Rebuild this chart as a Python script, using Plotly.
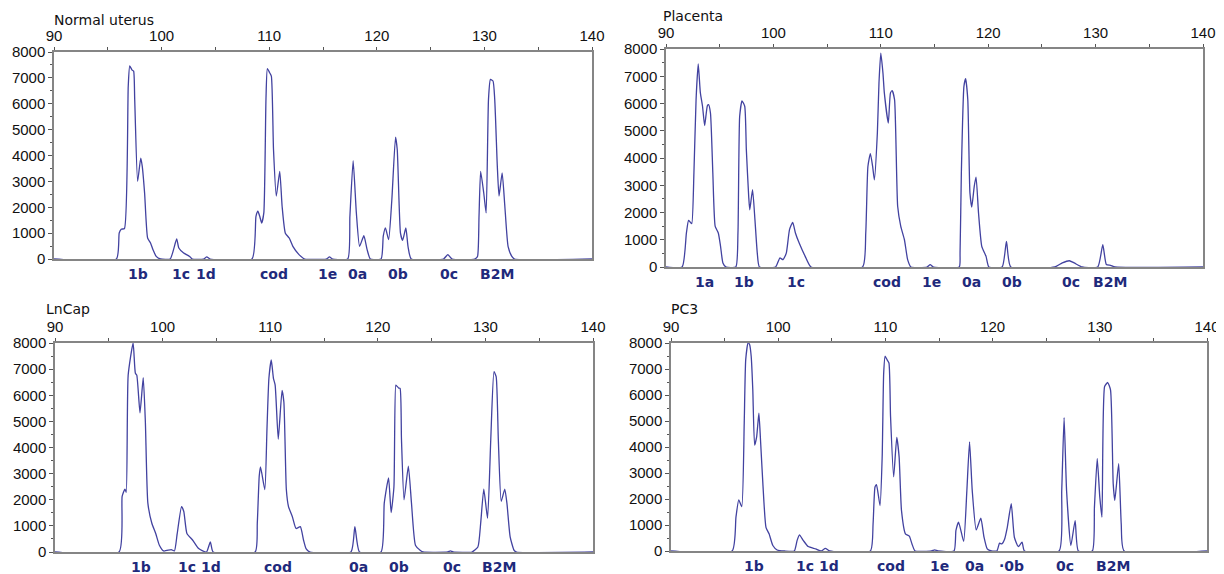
import plotly.graph_objects as go

# ---------------- data ----------------
NU_PTS = [(90,0),(95.8,0),(96.06,1006),(96.25,1150),(96.55,1180),(96.9,6680),(97.04,7460),(97.26,7300),
          (97.4,7260),(97.5,6170),(97.77,3000),(98.06,3900),(98.2,3590),(98.42,2550),(98.7,810),(98.97,620),
          (99.2,360),(99.5,100),(99.9,0),(100.8,0),(101.4,775),(101.6,425),(102.05,230),(102.6,100),(102.85,0),
          (103.9,0),(104.2,80),(104.5,0),(108.4,0),(108.77,1650),(108.95,1845),(109.12,1650),(109.3,1390),
          (109.5,1780),(109.7,6170),(109.83,7355),(110.04,7200),(110.2,7070),(110.4,4230),(110.66,2430),
          (110.98,3390),(111.2,2040),(111.5,1000),(111.86,810),(112.2,490),(112.77,170),(113.3,0),(115.3,0),
          (115.6,80),(115.9,0),(117.3,0),(117.5,1650),(117.8,3800),(118.1,1780),(118.4,490),(118.8,900),
          (119.1,360),(119.4,0),(120.4,0),(120.6,880),(120.8,1200),(121.1,750),(121.4,2300),(121.74,4710),
          (121.9,4230),(122.2,1000),(122.4,720),(122.7,1200),(122.9,490),(123.2,0),(126.2,0),(126.6,170),
          (127.0,0),(129.1,0),(129.36,100),(129.5,1650),(129.65,3390),(129.94,2550),(130.16,1780),(130.38,6170),
          (130.56,6940),(130.8,6880),(130.96,6170),(131.2,3590),(131.36,2430),(131.65,3330),(131.9,2040),
          (132.2,490),(132.55,100),(132.8,0),(140,0)]

PL_PTS = [(90,0),(91.5,0),(91.9,1250),(92.1,1710),(92.25,1650),(92.4,1590),(92.6,3450),(92.8,6140),(93.0,7450),
          (93.2,6390),(93.4,5900),(93.6,5190),(93.85,5920),(93.96,5960),(94.14,5650),(94.36,3450),(94.58,1490),
          (94.87,1250),(95.08,760),(95.3,150),(95.6,0),(96.5,0),(96.7,1250),(96.86,5530),(97.08,6100),(97.33,5900),
          (97.48,4300),(97.7,2590),(97.8,2100),(98.06,2840),(98.28,1740),(98.5,510),(98.7,0),(100.2,0),(100.6,330),
          (100.9,270),(101.2,510),(101.5,1370),(101.8,1640),(102.05,1250),(102.4,880),(102.96,390),(103.5,0),
          (108.3,0),(108.6,1250),(108.8,3690),(109.03,4160),(109.24,3690),(109.4,3200),(109.68,4920),(109.83,6750),
          (110.0,7850),(110.2,7120),(110.33,6390),(110.7,5280),(110.9,6390),(111.06,6470),(111.28,6140),
          (111.57,2230),(111.86,1490),(112.2,1000),(112.5,270),(112.8,0),(114.3,0),(114.6,90),(114.9,0),(117.3,0),
          (117.38,510),(117.5,3450),(117.74,6630),(117.9,6910),(118.1,6140),(118.3,2720),(118.47,2200),(118.7,2960),
          (118.87,3300),(119.1,1980),(119.4,760),(119.8,390),(120.06,0),(121.3,0),(121.7,940),(122.1,0),(126.2,0),
          (126.9,150),(127.55,230),(128.0,150),(128.75,0),(130.2,0),(130.67,820),(131.0,90),(131.4,60),(131.8,0),
          (140,0)]

LN_PTS = [(90,0),(95.95,0),(96.24,2130),(96.5,2410),(96.62,2280),(96.8,6770),(97.26,8000),(97.47,6840),(97.6,6770),
          (97.9,5330),(98.2,6670),(98.4,4970),(98.63,1870),(99.0,1100),(99.36,710),(99.7,260),(100.1,40),(100.8,90),
          (101.1,40),(101.36,710),(101.76,1740),(101.97,1550),(102.26,710),(102.8,450),(103.35,130),(104.08,0),
          (104.44,390),(104.7,0),(108.6,0),(108.8,1100),(108.98,2900),(109.1,3260),(109.5,2390),(109.7,4710),
          (109.88,6650),(110.1,7350),(110.3,6650),(110.46,6390),(110.75,4320),(111.1,6190),(111.27,5740),(111.5,2390),
          (111.7,1740),(112.06,1350),(112.4,900),(112.8,970),(113.1,450),(113.33,130),(113.7,0),(117.5,0),
          (117.87,970),(118.3,0),(120.3,0),(120.6,1870),(121.0,2840),(121.24,1510),(121.5,2500),(121.67,6390),
          (121.75,6360),(121.93,6280),(122.07,6260),(122.2,4320),(122.44,2000),(122.84,3290),(123.13,1870),
          (123.5,260),(123.96,60),(124.2,0),(126.5,0),(126.75,40),(127.0,0),(128.75,0),(129.3,190),(129.56,1100),
          (129.85,2410),(130.2,1290),(130.5,4320),(130.8,6900),(131.0,6710),(131.2,4320),(131.47,1940),(131.8,2410),
          (132.0,1870),(132.3,580),(132.67,60),(132.9,0),(140,0)]

PC_PTS = [(90,0),(95.7,0),(96.06,1300),(96.32,1970),(96.6,1710),(96.83,4910),(96.97,7360),(97.19,8000),(97.33,7940),
          (97.48,7490),(97.63,6200),(97.8,4070),(97.99,4390),(98.2,5300),(98.35,4270),(98.57,2590),(98.86,910),
          (99.15,660),(99.5,210),(99.9,40),(100.6,0),(101.5,0),(101.76,400),(101.98,620),(102.35,400),(102.8,170),
          (103.5,80),(104.0,0),(104.4,100),(104.8,0),(108.6,0),(108.85,1040),(109.03,2460),(109.17,2550),(109.5,1750),
          (109.7,3620),(109.84,6840),(109.97,7490),(110.15,7360),(110.33,7230),(110.48,5170),(110.77,2850),
          (111.06,4370),(111.28,3620),(111.5,1560),(111.87,660),(112.23,570),(112.48,270),(112.77,0),(114.3,0),
          (114.6,40),(114.9,0),(116.4,0),(116.58,790),(116.83,1110),(117.3,370),(117.6,2330),(117.85,4200),
          (118.1,2330),(118.47,810),(118.9,1260),(119.2,530),(119.5,80),(119.9,0),(120.4,0),(120.65,300),
          (120.86,270),(121.1,430),(121.37,910),(121.74,1820),(122.03,530),(122.4,170),(122.75,340),(122.97,0),
          (126.2,0),(126.45,2330),(126.67,5130),(126.9,2330),(127.3,210),(127.7,1170),(128.0,0),(129.3,0),
          (129.5,1690),(129.76,3560),(130.0,2070),(130.2,1300),(130.45,6330),(130.74,6480),(131.0,6200),
          (131.25,2590),(131.4,1950),(131.76,3360),(132.0,1040),(132.27,0),(140,0)]

NU_LABELS = ["1b", "1c", "1d", "cod", "1e", "0a", "0b", "0c", "B2M"]
NU_LABEL_X = [97.8, 101.8, 104.1, 110.4, 115.4, 118.2, 122.0, 126.7, 131.2]
PL_LABELS = ["1a", "1b", "1c", "cod", "1e", "0a", "0b", "0c", "B2M"]
PL_LABEL_X = [93.6, 97.3, 102.1, 110.6, 114.7, 118.4, 122.2, 127.7, 131.3]
LN_LABELS = ["1b", "1c", "1d", "cod", "0a", "0b", "0c", "B2M"]
LN_LABEL_X = [98.0, 102.3, 104.5, 110.7, 118.2, 122.0, 126.9, 131.3]
PC_LABELS = ["1b", "1c", "1d", "cod", "1e", "0a", "·0b", "0c", "B2M"]
PC_LABEL_X = [97.7, 102.5, 104.7, 110.5, 115.05, 118.3, 121.8, 126.75, 131.2]

TITLES = ["Normal uterus", "Placenta", "LnCap", "PC3"]
X_TICKS = [90, 100, 110, 120, 130, 140]
Y_TICKS = [0, 1000, 2000, 3000, 4000, 5000, 6000, 7000, 8000]

# ---------------- layout geometry ----------------
# The page body has an 8px default margin, so the figure is drawn 8px in from the
# window corner; all window-pixel positions below are shifted by that offset.
OFF = 8
W, H = 1224 - OFF, 574 - OFF
# (left, right, top, bottom) of each plot box, in window pixels
BOXES = [(54, 592, 52, 259), (666, 1203, 49, 267), (55, 593, 343, 552), (671, 1207, 343, 551)]
TITLE_POS = [(53, 20), (662, 16), (45, 309), (670, 309)]

LINE_COLOR = "#4242a0"
LABEL_COLOR = "#1f2a7c"
AXIS_COLOR = "#858585"

fig = go.Figure()
panels = [(NU_PTS, NU_LABELS, NU_LABEL_X), (PL_PTS, PL_LABELS, PL_LABEL_X),
          (LN_PTS, LN_LABELS, LN_LABEL_X), (PC_PTS, PC_LABELS, PC_LABEL_X)]

annotations = []
for i, (pts, labels, label_x) in enumerate(panels):
    n = "" if i == 0 else str(i + 1)
    xs = [p[0] for p in pts]
    ys = [p[1] for p in pts]
    fig.add_trace(go.Scatter(x=xs, y=ys, mode="lines", xaxis="x" + n, yaxis="y" + n,
                             line=dict(color=LINE_COLOR, width=1.3, shape="spline", smoothing=0.5),
                             showlegend=False, hoverinfo="x+y"))
    l, r, t, b = [v - OFF for v in BOXES[i]]
    xdom = [l / W, r / W]
    ydom = [1 - b / H, 1 - t / H]
    fig.update_layout(**{
        "xaxis" + n: dict(domain=xdom, anchor="y" + n, side="top", range=[90, 140], automargin=False,
                          tickvals=X_TICKS, ticks="outside", ticklen=3, tickwidth=1, tickcolor="#555",
                          minor=dict(dtick=5, ticks="outside", ticklen=3, tickcolor="#555", showgrid=False),
                          showline=True, linecolor=AXIS_COLOR, linewidth=1.5, mirror=True,
                          showgrid=False, zeroline=False,
                          tickfont=dict(family="Liberation Sans, Arial", size=15, color="#111")),
        "yaxis" + n: dict(domain=ydom, anchor="x" + n, range=[0, 8000], automargin=False,
                          tickvals=Y_TICKS, ticks="outside", ticklen=4, tickwidth=1, tickcolor="#555",
                          minor=dict(dtick=500, ticks="outside", ticklen=2, tickcolor="#555", showgrid=False),
                          showline=True, linecolor=AXIS_COLOR, linewidth=1.5, mirror=True,
                          showgrid=False, zeroline=False,
                          tickfont=dict(family="Liberation Sans, Arial", size=15, color="#111")),
    })
    for lab, lx in zip(labels, label_x):
        annotations.append(dict(x=lx, y=0, xref="x" + n, yref=("y" + n) + " domain", text=lab,
                                showarrow=False, xanchor="center", yanchor="middle", yshift=-15,
                                font=dict(family="DejaVu Sans", size=14, color=LABEL_COLOR, weight="bold")))
    tx, ty = TITLE_POS[i]
    annotations.append(dict(x=(tx - OFF) / W, y=1 - (ty - OFF) / H, xref="paper", yref="paper",
                            text=TITLES[i], showarrow=False, xanchor="left", yanchor="middle",
                            borderpad=0,
                            font=dict(family="DejaVu Sans", size=14, color="#111")))

fig.update_layout(width=W, height=H, margin=dict(l=0, r=0, t=0, b=0, autoexpand=False),
                  paper_bgcolor="white", plot_bgcolor="white", annotations=annotations,
                  showlegend=False)

fig.write_html("out.html")
